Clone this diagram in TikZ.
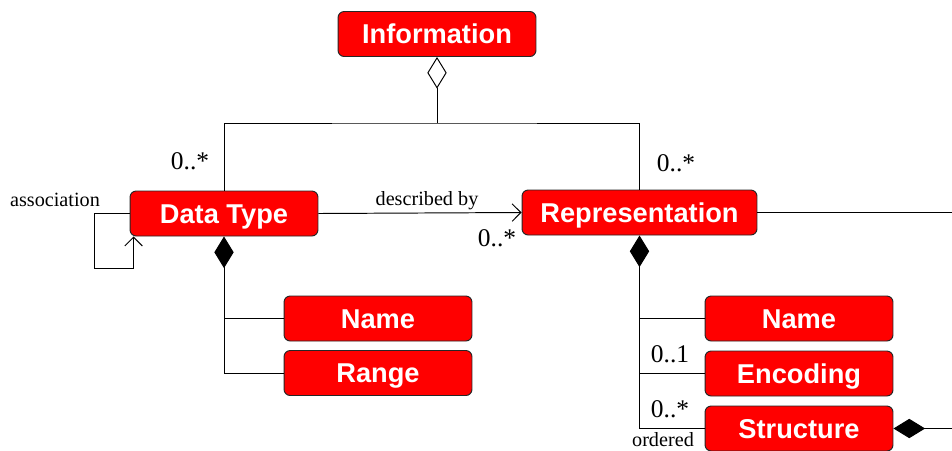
\documentclass[tikz,border=0pt]{standalone}
\usepackage{fontspec}
\setmainfont{Liberation Serif}
\setsansfont{Liberation Sans}
\usetikzlibrary{arrows.meta}
\definecolor{boxred}{RGB}{255,0,0}

\begin{document}
\begin{tikzpicture}[x=0.02cm, y=-0.02cm, line width=0.55pt,
    cls/.style={draw=black!85, fill=boxred, rounded corners=3.5pt, text=white,
        font=\sffamily\bfseries\fontsize{15.5}{18}\selectfont,
        text height=11.1pt, text depth=0pt,
        minimum width=3.76cm, minimum height=0.9cm, inner sep=0pt},
    mult/.style={font=\fontsize{14.5}{16}\selectfont},
    lbl/.style={font=\fontsize{11.5}{13}\selectfont},
    agg/.style={{Diamond[open,length=18pt,width=11pt]}-},
    comp/.style={{Diamond[length=18pt,width=11pt]}-},
    nav/.style={-{Straight Barb[length=5pt,width=10pt]}}]
    \useasboundingbox (0,0) rectangle (952,450);
    \node[cls, minimum width=3.96cm] (info) at (437,34) {Information};
    \node[cls] (dt) at (224,213.5) {Data Type};
    \node[cls, minimum width=4.7cm] (rep) at (639.5,212.5) {Representation};
    \node[cls] (dtname) at (378,318.5) {Name};
    \node[cls] (range) at (378,373) {Range};
    \node[cls] (repname) at (799,318.5) {Name};
    \node[cls] (enc) at (799,373.5) {Encoding};
    \node[cls] (struct) at (799,428.5) {Structure};
    \coordinate (join) at (437,123);
    \coordinate (repend) at (952,212.5);
    \coordinate (structend) at (952,428.5);
    \draw[agg] (info.south) -- (join);
    \draw (dt.north) |- (join) -| (rep.north);
    \draw[nav] (dt.east) -- (rep.west);
    \draw[nav] (dt.west) -- ++(-35,0) -- ++(0,55) -| ([xshift=0.08cm]dt.south west);
    \draw[comp] (dt.south) |- (range.west);
    \draw (dt.south |- dtname.west) -- (dtname.west);
    \draw[comp] (rep.south) |- (struct.west);
    \draw (rep.south |- repname.west) -- (repname.west);
    \draw (rep.south |- enc.west) -- (enc.west);
    \draw[comp] (struct.east) -- (structend);
    \draw (rep.east) -- (repend);
    \node[mult] (dtmult) at (190,161) {0..*};
    \node[mult] (repmult) at (676,163) {0..*};
    \node[lbl] (descr) at (427,201) {described by};
    \node[mult] (descrmult) at (497,238) {0..*};
    \node[lbl] (assoc) at (55,200) {association};
    \node[mult] (encmult) at (670,354) {0..1};
    \node[mult] (structmult) at (670,409) {0..*};
    \node[lbl] (ord) at (663,440) {ordered};
\end{tikzpicture}
\end{document}
